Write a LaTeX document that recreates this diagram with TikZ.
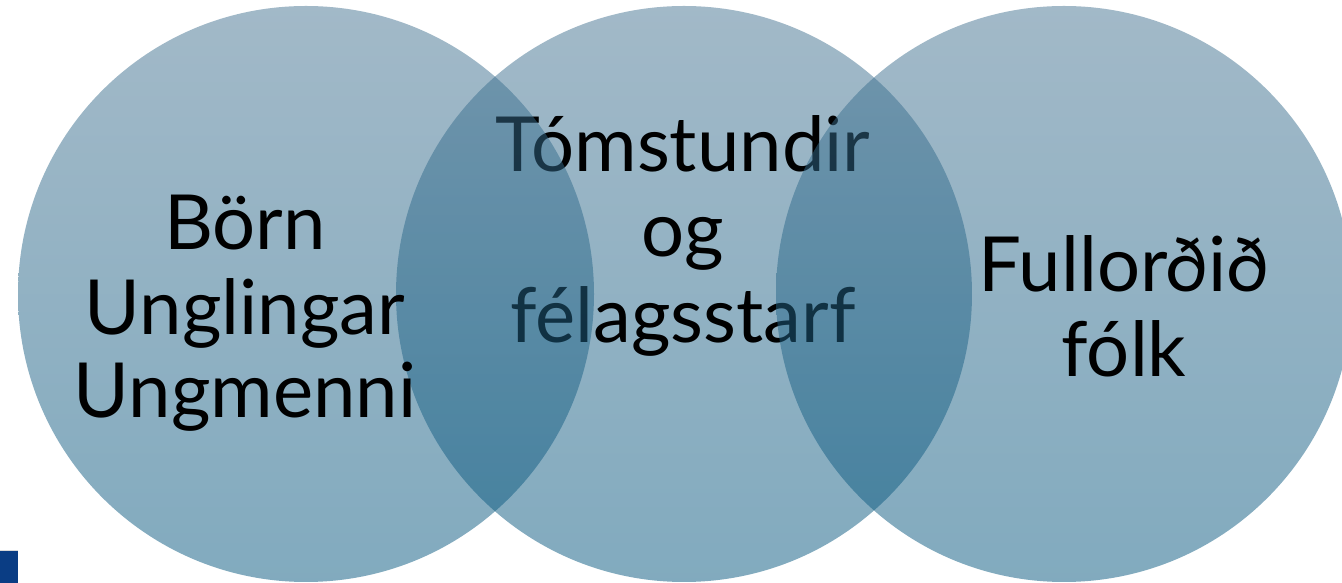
\documentclass[tikz,border=0pt]{standalone}
\usepackage{fontspec}
\setmainfont{Lato}
\definecolor{ctop}{RGB}{69,115,145}
\definecolor{cbot}{RGB}{4,86,126}
\definecolor{navy}{RGB}{10,61,132}
\begin{document}
\begin{tikzpicture}[x=1pt,y=1pt,
  bubble/.style={top color=ctop,bottom color=cbot,fill opacity=0.5},
  lbl/.style={anchor=base,inner sep=0pt,text=black,font=\fontsize{76}{80}\selectfont}]
\useasboundingbox (0,0) rectangle (1342,583);
% middle circle and its text (covered by the other circles)
\shade[bubble] (684,289) circle (288);
\node[lbl] (m1) at (683,411) {Tómstundir};
\node[lbl] (m2) at (683,326) {og};
\node[lbl] (m3) at (683,240) {félagsstarf};
% left and right circles
\shade[bubble] (306,289) circle (288);
\shade[bubble] (1064,289) circle (288);
% texts of outer circles
\node[lbl] (l1) at (245,333) {Börn};
\node[lbl] (l2) at (245,248) {Unglingar};
\node[lbl] (l3) at (245,165) {Ungmenni};
\node[lbl] (r1) at (1124,291) {Fullorðið};
\node[lbl] (r2) at (1124,206) {fólk};
% corner mark
\fill[navy] (0,0) rectangle (18,32);
\fill[gray!30] (0,32) rectangle (18,33);
\end{tikzpicture}
\end{document}
